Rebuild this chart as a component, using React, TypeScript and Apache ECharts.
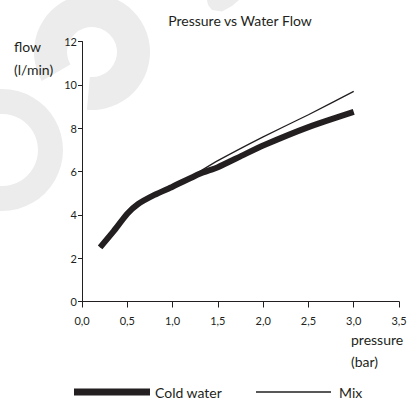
import React, { useEffect, useRef } from "react";
import * as echarts from "echarts";

// Pressure (bar) sample points and flows (l/min)
const coldPressure = [0.2, 0.35, 0.5, 0.62, 0.8, 1.0, 1.3, 1.5, 1.75, 2.0, 2.5, 3.0];
const coldFlow = [2.5, 3.25, 4.05, 4.5, 4.92, 5.3, 5.9, 6.2, 6.7, 7.2, 8.05, 8.75];
const mixPressure = [0.2, 0.35, 0.5, 0.62, 0.8, 1.0, 1.2, 1.5, 2.0, 2.5, 3.0];
const mixFlow = [2.5, 3.25, 4.05, 4.5, 4.92, 5.3, 5.75, 6.5, 7.6, 8.62, 9.7];

const seriesNames = ["Cold water", "Mix"];
const titleText = "Pressure vs Water Flow";
const yAxisName = ["flow", "(l/min)"];
const xAxisName = ["pressure", "(bar)"];

const INK = "#231f20";
const WM = "#ececec";
const FONT = "Lato, 'Open Sans', sans-serif";
const deg = (d: number) => (d * Math.PI) / 180;

export default function App() {
  const ref = useRef<HTMLDivElement>(null);
  useEffect(() => {
    if (!ref.current) return;
    const chart = echarts.init(ref.current, null, { renderer: "svg" });
    const cold = coldPressure.map((p, i) => [p, coldFlow[i]]);
    const mix = mixPressure.map((p, i) => [p, mixFlow[i]]);
    chart.setOption({
      animation: false,
      backgroundColor: "#ffffff",
      textStyle: { fontFamily: FONT },
      grid: { left: 82, top: 41.5, width: 317, height: 260, containLabel: false },
      xAxis: {
        type: "value",
        min: 0,
        max: 3.5,
        interval: 0.5,
        axisLine: { show: true, lineStyle: { color: INK, width: 1 } },
        axisTick: { show: true, length: 6, lineStyle: { color: INK, width: 1 } },
        axisLabel: {
          color: INK,
          fontSize: 11,
          fontFamily: FONT,
          margin: 13,
          formatter: (v: number) => v.toFixed(1).replace(".", ","),
        },
        splitLine: { show: false },
      },
      yAxis: {
        type: "value",
        min: 0,
        max: 12,
        interval: 2,
        axisLine: { show: true, lineStyle: { color: INK, width: 1 } },
        axisTick: { show: true, length: 4, lineStyle: { color: INK, width: 1 } },
        axisLabel: { color: INK, fontSize: 11, fontFamily: FONT, margin: 5 },
        splitLine: { show: false },
      },
      legend: [
        {
          data: [seriesNames[0]],
          left: 69,
          top: 380,
          icon: "rect",
          itemWidth: 76,
          itemHeight: 7,
          textStyle: { color: INK, fontSize: 14, fontFamily: FONT, padding: [0, 0, 0, 0] },
        },
        {
          data: [seriesNames[1]],
          left: 251,
          top: 380,
          icon: "rect",
          itemWidth: 75,
          itemHeight: 1.3,
          textStyle: { color: INK, fontSize: 14, fontFamily: FONT, padding: [0, 0, 0, 3] },
        },
      ],
      graphic: [
        {
          type: "sector",
          z: -10,
          silent: true,
          shape: { cx: 92, cy: 52, r0: 25, r: 58, startAngle: deg(150), endAngle: deg(455), clockwise: true },
          style: { fill: WM },
        },
        {
          type: "ring",
          z: -10,
          silent: true,
          shape: { cx: 2, cy: 150, r0: 36, r: 61 },
          style: { fill: WM },
        },
        {
          type: "polygon",
          z: -10,
          silent: true,
          shape: { points: [[207, 0], [239, 0], [232, 6], [222, 11.5], [212, 10], [208, 5]] },
          style: { fill: WM },
        },
        {
          type: "text",
          x: 240,
          y: 20,
          style: { text: titleText, fill: INK, font: `14px ${FONT}`, align: "center", verticalAlign: "middle" },
        },
        {
          type: "text",
          x: 14,
          y: 46,
          style: { text: yAxisName[0], fill: INK, font: `14px ${FONT}`, align: "left", verticalAlign: "middle" },
        },
        {
          type: "text",
          x: 14,
          y: 69,
          style: { text: yAxisName[1], fill: INK, font: `14px ${FONT}`, align: "left", verticalAlign: "middle" },
        },
        {
          type: "text",
          x: 351,
          y: 339,
          style: { text: xAxisName[0], fill: INK, font: `14px ${FONT}`, align: "left", verticalAlign: "middle" },
        },
        {
          type: "text",
          x: 351,
          y: 361,
          style: { text: xAxisName[1], fill: INK, font: `14px ${FONT}`, align: "left", verticalAlign: "middle" },
        },
      ],
      series: [
        {
          name: seriesNames[1],
          type: "line",
          data: mix,
          symbol: "none",
          smooth: 0.15,
          itemStyle: { color: INK },
          lineStyle: { color: INK, width: 1.3 },
          z: 2,
        },
        {
          name: seriesNames[0],
          type: "line",
          data: cold,
          symbol: "none",
          smooth: 0.2,
          itemStyle: { color: INK },
          lineStyle: { color: INK, width: 6, cap: "butt", join: "round" },
          z: 3,
        },
      ],
    });
    return () => chart.dispose();
  }, []);
  return (
    <div
      ref={ref}
      style={{ position: "fixed", left: 0, top: 0, width: 412, height: 401 }}
    />
  );
}
